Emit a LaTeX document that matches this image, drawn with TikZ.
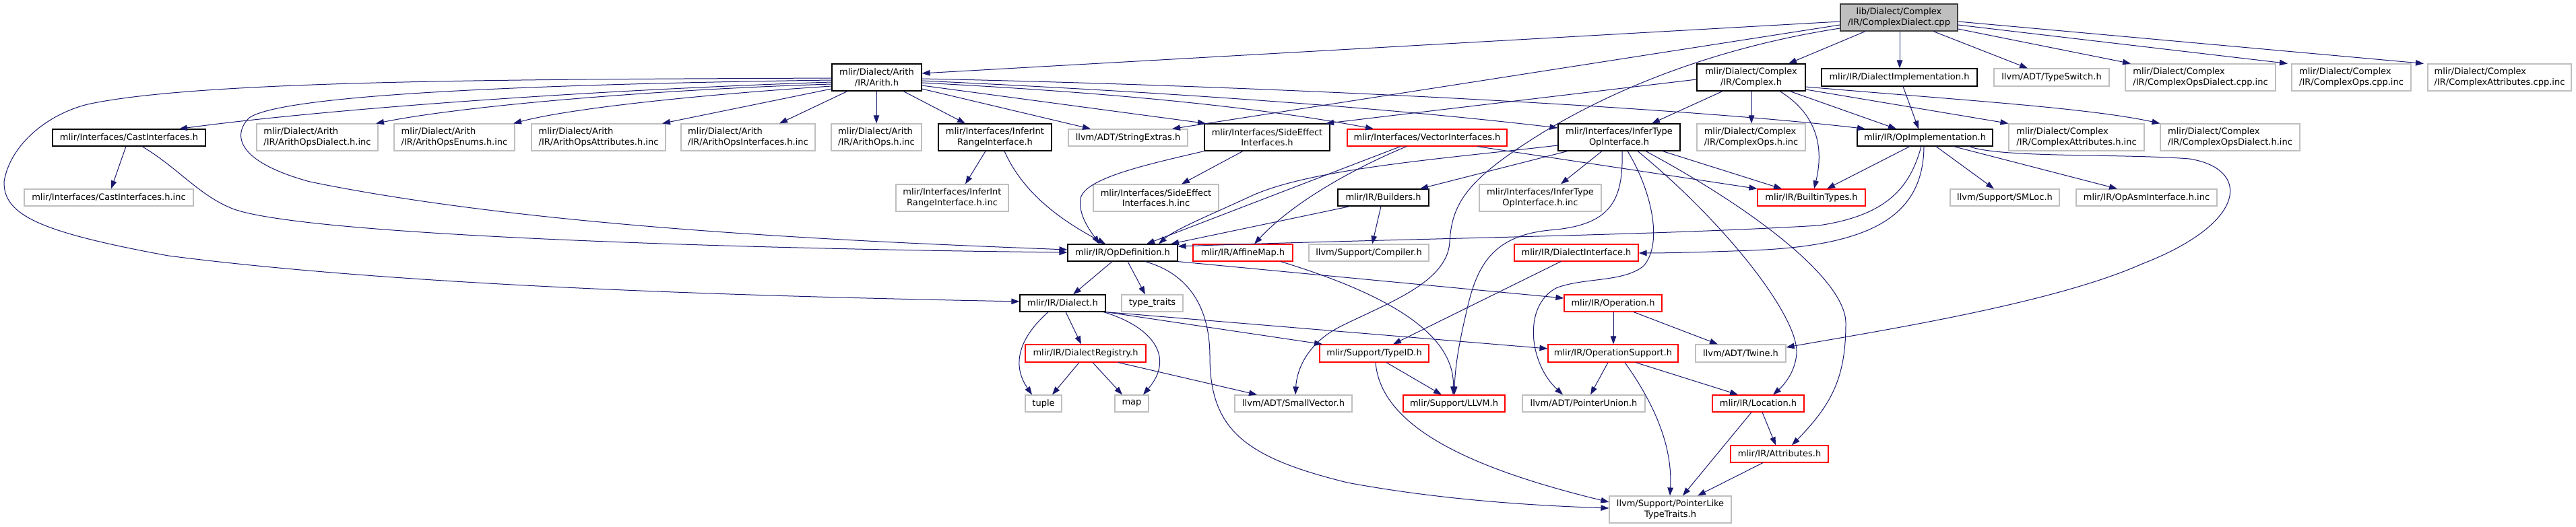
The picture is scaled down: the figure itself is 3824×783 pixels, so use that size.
\documentclass[tikz,border=0pt]{standalone}
\usepackage{fontspec}
\setmainfont{DejaVu Sans}
\usetikzlibrary{arrows.meta}
\definecolor{edgec}{HTML}{191970}
\definecolor{gborder}{HTML}{BFBFBF}
\definecolor{rootfill}{HTML}{BFBFBF}
\definecolor{rootborder}{HTML}{404040}
\definecolor{rborder}{HTML}{FF0000}
\begin{document}
\begin{tikzpicture}[x=1pt,y=-1pt,
  base/.style={rectangle, inner sep=0pt, line width=1.15pt, fill=white, font=\fontsize{13}{15.5}\selectfont, align=center, text=black},
  gbox/.style={base, draw=gborder},
  bbox/.style={base, draw=black},
  rbox/.style={base, draw=rborder},
  rootbox/.style={base, draw=rootborder, fill=rootfill},
  sz/.style 2 args={minimum width=#1pt, minimum height=#2pt},
  e/.style={draw=edgec, line width=1.0pt, -{Triangle[length=12pt,width=8.5pt]}}
]
\fill[white] (0,0) rectangle (3824,783);
\useasboundingbox (0,0) rectangle (3824,783);

% ---------------- nodes ----------------
\node[rootbox, sz={174}{40}] (root) at (2819,26) {lib/Dialect/Complex\\/IR/ComplexDialect.cpp};
\node[bbox, sz={133}{40}] (arith) at (1301.5,115) {mlir/Dialect/Arith\\/IR/Arith.h};
\node[bbox, sz={161}{40}] (complex) at (2599.5,115) {mlir/Dialect/Complex\\/IR/Complex.h};
\node[bbox, sz={231}{26}] (dialectImpl) at (2819.5,115) {mlir/IR/DialectImplementation.h};
\node[gbox, sz={171}{26}] (typeswitch) at (3045.5,115) {llvm/ADT/TypeSwitch.h};
\node[gbox, sz={223}{40}, align=left] (cpdCpp) at (3266.5,115) {mlir/Dialect/Complex\\/IR/ComplexOpsDialect.cpp.inc};
\node[gbox, sz={177}{40}, align=left] (coCpp) at (3490.5,115) {mlir/Dialect/Complex\\/IR/ComplexOps.cpp.inc};
\node[gbox, sz={213}{40}, align=left] (caCpp) at (3710.5,115) {mlir/Dialect/Complex\\/IR/ComplexAttributes.cpp.inc};

\node[bbox, sz={227}{25}] (castIf) at (191.5,204.5) {mlir/Interfaces/CastInterfaces.h};
\node[gbox, sz={180}{40}, align=left] (aoDialect) at (471,204) {mlir/Dialect/Arith\\/IR/ArithOpsDialect.h.inc};
\node[gbox, sz={179}{40}, align=left] (aoEnums) at (674.5,204) {mlir/Dialect/Arith\\/IR/ArithOpsEnums.h.inc};
\node[gbox, sz={199}{40}, align=left] (aoAttr) at (888.5,204) {mlir/Dialect/Arith\\/IR/ArithOpsAttributes.h.inc};
\node[gbox, sz={199}{40}, align=left] (aoIf) at (1110.5,204) {mlir/Dialect/Arith\\/IR/ArithOpsInterfaces.h.inc};
\node[gbox, sz={134}{40}, align=left] (aoOps) at (1301,204) {mlir/Dialect/Arith\\/IR/ArithOps.h.inc};
\node[bbox, sz={168}{40}] (inferInt) at (1477,204) {mlir/Interfaces/InferInt\\RangeInterface.h};
\node[gbox, sz={177}{25}] (stringExtras) at (1674.5,204.5) {llvm/ADT/StringExtras.h};
\node[bbox, sz={186}{40}] (sideEffect) at (1881,204) {mlir/Interfaces/SideEffect\\Interfaces.h};
\node[rbox, sz={237}{25}] (vectorIf) at (2118.5,204.5) {mlir/Interfaces/VectorInterfaces.h};
\node[bbox, sz={181}{40}] (inferType) at (2403.5,204) {mlir/Interfaces/InferType\\OpInterface.h};
\node[gbox, sz={161}{40}, align=left] (coInc) at (2599.5,204) {mlir/Dialect/Complex\\/IR/ComplexOps.h.inc};
\node[bbox, sz={201}{25}] (opImpl) at (2857.5,204.5) {mlir/IR/OpImplementation.h};
\node[gbox, sz={201}{40}, align=left] (caInc) at (3082.5,204) {mlir/Dialect/Complex\\/IR/ComplexAttributes.h.inc};
\node[gbox, sz={207}{40}, align=left] (cpdInc) at (3310.5,204) {mlir/Dialect/Complex\\/IR/ComplexOpsDialect.h.inc};

\node[gbox, sz={251}{25}] (castIfInc) at (161.5,293.5) {mlir/Interfaces/CastInterfaces.h.inc};
\node[gbox, sz={167}{40}] (inferIntInc) at (1413.5,294) {mlir/Interfaces/InferInt\\RangeInterface.h.inc};
\node[gbox, sz={186}{40}] (sideEffectInc) at (1716,294) {mlir/Interfaces/SideEffect\\Interfaces.h.inc};
\node[bbox, sz={135}{25}] (builders) at (2053.5,293.5) {mlir/IR/Builders.h};
\node[gbox, sz={181}{40}] (inferTypeInc) at (2286.5,294) {mlir/Interfaces/InferType\\OpInterface.h.inc};
\node[rbox, sz={160}{25}] (builtinTypes) at (2689,293.5) {mlir/IR/BuiltinTypes.h};
\node[gbox, sz={162}{25}] (smloc) at (2976,293.5) {llvm/Support/SMLoc.h};
\node[gbox, sz={209}{25}] (opAsmInc) at (3186.5,293.5) {mlir/IR/OpAsmInterface.h.inc};

\node[bbox, sz={163}{25}] (opDef) at (1666.5,375.5) {mlir/IR/OpDefinition.h};
\node[rbox, sz={148}{25}] (affineMap) at (1845,375.5) {mlir/IR/AffineMap.h};
\node[gbox, sz={178}{25}] (compiler) at (2032,375.5) {llvm/Support/Compiler.h};
\node[rbox, sz={184}{25}] (dialectIf) at (2340,375.5) {mlir/IR/DialectInterface.h};

\node[bbox, sz={127}{25}] (dialect) at (1577.5,450.5) {mlir/IR/Dialect.h};
\node[gbox, sz={91}{25}] (typeTraits) at (1710.5,450.5) {type\_traits};
\node[rbox, sz={145}{25}] (operation) at (2394.5,450.5) {mlir/IR/Operation.h};

\node[rbox, sz={179}{26}] (dialectReg) at (1611.5,525) {mlir/IR/DialectRegistry.h};
\node[rbox, sz={162}{26}] (typeID) at (2040,525) {mlir/Support/TypeID.h};
\node[rbox, sz={193}{26}] (opSupport) at (2394.5,525) {mlir/IR/OperationSupport.h};
\node[gbox, sz={134}{26}] (twine) at (2584,525) {llvm/ADT/Twine.h};

\node[gbox, sz={54}{25}] (tuple) at (1549,599.5) {tuple};
\node[gbox, sz={50}{25}] (map) at (1680,599.5) {map};
\node[gbox, sz={174}{25}] (smallVec) at (1920,599.5) {llvm/ADT/SmallVector.h};
\node[rbox, sz={151}{25}] (llvmH) at (2158.5,599.5) {mlir/Support/LLVM.h};
\node[gbox, sz={182}{25}] (ptrUnion) at (2351,599.5) {llvm/ADT/PointerUnion.h};
\node[rbox, sz={136}{25}] (location) at (2610,599.5) {mlir/IR/Location.h};
\node[rbox, sz={145}{25}] (attributes) at (2641.5,674.5) {mlir/IR/Attributes.h};
\node[gbox, sz={181}{40}] (ptrLike) at (2479.5,757) {llvm/Support/PointerLike\\TypeTraits.h};

% ---------------- edges ----------------
% root
\draw[e] (root.west |- 0,32) -- (arith.east |- 0,109);
\draw[e] (root.west |- 0,37) -- (1740,0 |- stringExtras.north);
\draw[e] (root.west |- 0,42) .. controls (2550,70) and (2400,130) .. (2290,197) .. controls (2180,265) and (2155,300) .. (2152,360) .. controls (2148,420) and (2060,450) .. (1990,485) .. controls (1940,510) and (1925,550) .. (1923,0 |- smallVec.north);
\draw[e] (2769,0 |- root.south) -- (2655,0 |- complex.north);
\draw[e] (2820,0 |- root.south) -- (2820,0 |- dialectImpl.north);
\draw[e] (2870,0 |- root.south) -- (3010,0 |- typeswitch.north);
\draw[e] (root.east |- 0,43) -- (3163,0 |- cpdCpp.north);
\draw[e] (root.east |- 0,37) -- (3396,0 |- coCpp.north);
\draw[e] (root.east |- 0,32) -- (3598,0 |- caCpp.north);

% arith
\draw[e] (arith.west |- 0,116) .. controls (800,118) and (300,118) .. (130,155) .. controls (70,170) and (15,215) .. (6,270) .. controls (5,320) and (60,345) .. (250,380) .. controls (600,425) and (1100,440) .. (dialect.west |- 0,448);
\draw[e] (arith.west |- 0,119) .. controls (800,125) and (420,140) .. (370,175) .. controls (345,200) and (350,240) .. (460,270) .. controls (800,340) and (1300,360) .. (opDef.west |- 0,371);
\draw[e] (arith.west |- 0,122) .. controls (900,133) and (500,160) .. (266,0 |- castIf.north);
\draw[e] (arith.west |- 0,125) .. controls (1000,132) and (700,155) .. (558,0 |- aoDialect.north);
\draw[e] (arith.west |- 0,128) .. controls (1050,140) and (850,160) .. (762,0 |- aoEnums.north);
\draw[e] (arith.west |- 0,132) -- (983,0 |- aoAttr.north);
\draw[e] (1258,0 |- arith.south) -- (1157,0 |- aoIf.north);
\draw[e] (1301,0 |- arith.south) -- (1301,0 |- aoOps.north);
\draw[e] (1341,0 |- arith.south) -- (1433,0 |- inferInt.north);
\draw[e] (arith.east |- 0,132) -- (1619,0 |- stringExtras.north);
\draw[e] (arith.east |- 0,127) -- (1790,0 |- sideEffect.north);
\draw[e] (arith.east |- 0,123) .. controls (1700,140) and (1900,165) .. (2039,0 |- vectorIf.north);
\draw[e] (arith.east |- 0,120) .. controls (1800,140) and (2100,165) .. (inferType.west |- 0,190);
\draw[e] (arith.east |- 0,117) .. controls (1900,128) and (2500,160) .. (2769,0 |- opImpl.north);

% complex
\draw[e] (complex.west |- 0,118) -- (1968,0 |- sideEffect.north);
\draw[e] (2557,0 |- complex.south) -- (2452,0 |- inferType.north);
\draw[e] (2600,0 |- complex.south) -- (2600,0 |- coInc.north);
\draw[e] (2642,0 |- complex.south) .. controls (2690,165) and (2710,210) .. (2693,0 |- builtinTypes.north);
\draw[e] (2657,0 |- complex.south) -- (2815,0 |- opImpl.north);
\draw[e] (complex.east |- 0,133) -- (caInc.north west);
\draw[e] (complex.east |- 0,129) .. controls (2900,148) and (3100,160) .. (cpdInc.north west);

% dialect implementation
\draw[e] (2825,0 |- dialectImpl.south) -- (2848,0 |- opImpl.north);

% op implementation
\draw[e] (2835,0 |- opImpl.south) -- (2712,0 |- builtinTypes.north);
\draw[e] (2852,0 |- opImpl.south) .. controls (2835,280) and (2800,320) .. (2700,335) .. controls (2450,350) and (2100,354) .. (opDef.east |- 0,366);
\draw[e] (2856,0 |- opImpl.south) .. controls (2855,320) and (2780,365) .. (2600,372) .. controls (2520,375) and (2470,376) .. (dialectIf.east |- 0,376);
\draw[e] (2874,0 |- opImpl.south) -- (2960,0 |- smloc.north);
\draw[e] (2900,0 |- opImpl.south) -- (3143,0 |- opAsmInc.north);
\draw[e] (2923,0 |- opImpl.south) .. controls (2970,235) and (3150,228) .. (3250,236) .. controls (3340,250) and (3340,330) .. (3180,392) .. controls (3050,450) and (2800,490) .. (twine.east |- 0,516);

% dialect interface
\draw[e] (2317,0 |- dialectIf.south) -- (2068,0 |- typeID.north);

% infer type op interface
\draw[e] (inferType.west |- 0,216) .. controls (2150,235) and (1950,250) .. (1860,290) .. controls (1800,318) and (1745,340) .. (1720,0 |- opDef.north);
\draw[e] (2327,0 |- inferType.south) -- (2108,0 |- builders.north);
\draw[e] (2378,0 |- inferType.south) -- (2317,0 |- inferTypeInc.north);
\draw[e] (2408,0 |- inferType.south) .. controls (2410,300) and (2390,335) .. (2300,342) .. controls (2220,350) and (2195,390) .. (2180,450) .. controls (2168,500) and (2160,540) .. (2159,0 |- llvmH.north);
\draw[e] (2416,0 |- inferType.south) .. controls (2450,280) and (2470,360) .. (2440,395) .. controls (2410,420) and (2350,412) .. (2310,428) .. controls (2260,455) and (2270,540) .. (2320,0 |- ptrUnion.north);
\draw[e] (2431,0 |- inferType.south) .. controls (2560,330) and (2670,470) .. (2667,525) .. controls (2665,555) and (2645,575) .. (2632,0 |- location.north);
\draw[e] (2443,0 |- inferType.south) .. controls (2620,320) and (2740,420) .. (2740,480) .. controls (2740,560) and (2720,600) .. (2660,0 |- attributes.north);
\draw[e] (2468,0 |- inferType.south) -- (2645,0 |- builtinTypes.north);

% vector interfaces
\draw[e] (2079,0 |- vectorIf.south) -- (1702,0 |- opDef.north);
\draw[e] (2088,0 |- vectorIf.south) .. controls (2010,250) and (1920,300) .. (1862,0 |- affineMap.north);
\draw[e] (2193,0 |- vectorIf.south) -- (builtinTypes.north west);

% side effect interfaces
\draw[e] (1845,0 |- sideEffect.south) -- (1754,0 |- sideEffectInc.north);
\draw[e] (sideEffect.south west) .. controls (1700,245) and (1610,265) .. (1604,295) .. controls (1600,320) and (1620,345) .. (1632,0 |- opDef.north);

% infer int range interface
\draw[e] (1463,0 |- inferInt.south) -- (1433,0 |- inferIntInc.north);
\draw[e] (1491,0 |- inferInt.south) .. controls (1520,290) and (1580,330) .. (1641,0 |- opDef.north);

% cast interfaces
\draw[e] (187,0 |- castIf.south) -- (165,0 |- castIfInc.north);
\draw[e] (211,0 |- castIf.south) .. controls (265,250) and (295,290) .. (345,310) .. controls (450,350) and (1100,370) .. (opDef.west |- 0,375);

% builders
\draw[e] (2004,0 |- builders.south) -- (1738,0 |- opDef.north);
\draw[e] (2050,0 |- builders.south) -- (2037,0 |- compiler.north);

% affine map
\draw[e] (1901,0 |- affineMap.south) .. controls (2070,440) and (2160,500) .. (2157,0 |- llvmH.north);

% op definition
\draw[e] (1651,0 |- opDef.south) -- (1593,0 |- dialect.north);
\draw[e] (1674,0 |- opDef.south) -- (1700,0 |- typeTraits.north);
\draw[e] (1700,0 |- opDef.south) .. controls (1775,410) and (1796,470) .. (1796,530) .. controls (1796,640) and (1850,680) .. (2000,717) .. controls (2150,745) and (2300,752) .. (ptrLike.west |- 0,755);
\draw[e] (opDef.south east) -- (operation.west |- 0,443);

% dialect
\draw[e] (1556,0 |- dialect.south) .. controls (1515,500) and (1500,540) .. (1532,0 |- tuple.north);
\draw[e] (1582,0 |- dialect.south) -- (1605,0 |- dialectReg.north);
\draw[e] (1638,0 |- dialect.south) .. controls (1710,485) and (1745,530) .. (1697,0 |- map.north);
\draw[e] (dialect.south east) -- (1963,0 |- typeID.north);
\draw[e] (dialect.south east) -- (opSupport.west |- 0,518);

% dialect registry
\draw[e] (1602,0 |- dialectReg.south) -- (1562,0 |- tuple.north);
\draw[e] (1622,0 |- dialectReg.south) -- (1666,0 |- map.north);
\draw[e] (1660,0 |- dialectReg.south) -- (1866,0 |- smallVec.north);

% operation
\draw[e] (2395,0 |- operation.south) -- (2395,0 |- opSupport.north);
\draw[e] (2425,0 |- operation.south) -- (2550,0 |- twine.north);

% type id
\draw[e] (2058,0 |- typeID.south) -- (2140,0 |- llvmH.north);
\draw[e] (2042,0 |- typeID.south) .. controls (2050,640) and (2200,700) .. (ptrLike.west |- 0,746);

% operation support
\draw[e] (2387,0 |- opSupport.south) -- (2361,0 |- ptrUnion.north);
\draw[e] (2412,0 |- opSupport.south) .. controls (2470,620) and (2482,680) .. (2479,0 |- ptrLike.north);
\draw[e] (2428,0 |- opSupport.south) -- (2580,0 |- location.north);

% location
\draw[e] (2600,0 |- location.south) -- (2498,0 |- ptrLike.north);
\draw[e] (2616,0 |- location.south) -- (2636,0 |- attributes.north);

% attributes
\draw[e] (2617,0 |- attributes.south) -- (2520,0 |- ptrLike.north);
\end{tikzpicture}
\end{document}
